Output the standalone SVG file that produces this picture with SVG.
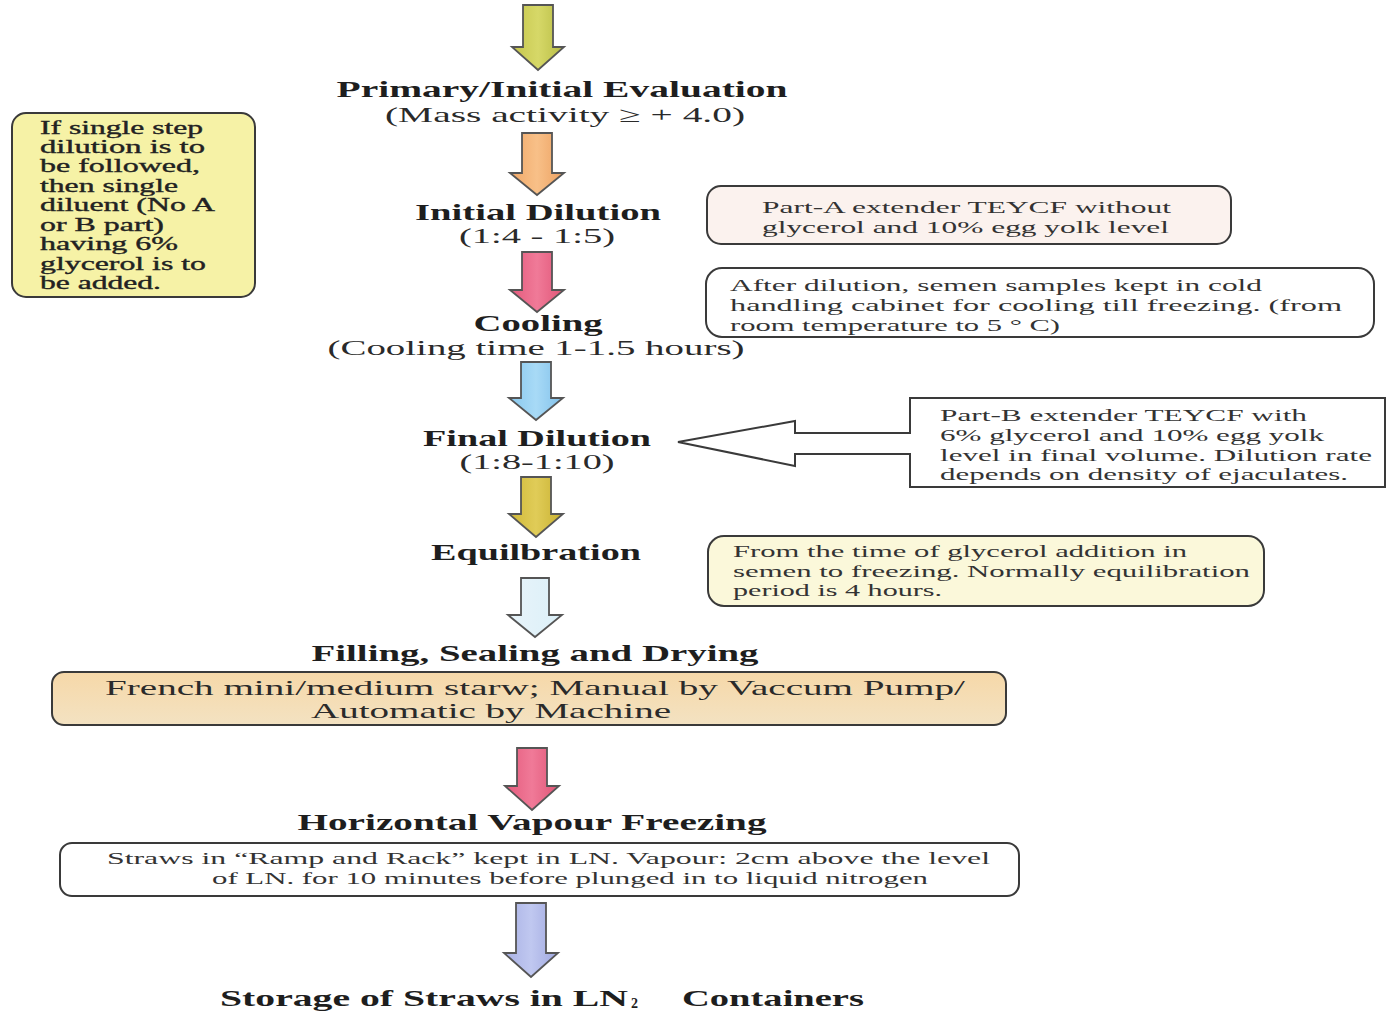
<svg xmlns="http://www.w3.org/2000/svg" width="1387" height="1011" viewBox="0 0 1387 1011">
<style>
.t{font-family:"Liberation Serif","Times New Roman",serif;font-weight:bold;font-size:23px;fill:#1e1e1e}
.s{font-family:"Liberation Serif","Times New Roman",serif;font-size:22px;fill:#2a2a2a}
.f{font-family:"Liberation Serif","Times New Roman",serif;font-size:21px;fill:#2a2a2a}
.b{font-family:"Liberation Serif","Times New Roman",serif;font-size:17px;fill:#333}
.bb{font-family:"Liberation Serif","Times New Roman",serif;font-size:18px;fill:#222;stroke:#222;stroke-width:0.35}
.box{stroke:#3a3a3a;stroke-width:2}
.arr{stroke:#555;stroke-width:1.8;stroke-linejoin:miter}
</style>
<defs>
<linearGradient id="gY" x1="0" y1="0" x2="1" y2="0"><stop offset="0" stop-color="#c6c64c"/><stop offset="0.5" stop-color="#d6d868"/><stop offset="1" stop-color="#b8bc44"/></linearGradient>
<linearGradient id="gO" x1="0" y1="0" x2="1" y2="0"><stop offset="0" stop-color="#f0a868"/><stop offset="0.5" stop-color="#f8c088"/><stop offset="1" stop-color="#eca060"/></linearGradient>
<linearGradient id="gP" x1="0" y1="0" x2="1" y2="0"><stop offset="0" stop-color="#e45a7c"/><stop offset="0.5" stop-color="#f07a98"/><stop offset="1" stop-color="#e05476"/></linearGradient>
<linearGradient id="gB" x1="0" y1="0" x2="1" y2="0"><stop offset="0" stop-color="#88c8ee"/><stop offset="0.5" stop-color="#a8daf6"/><stop offset="1" stop-color="#80c0ea"/></linearGradient>
<linearGradient id="gG" x1="0" y1="0" x2="1" y2="0"><stop offset="0" stop-color="#d0b838"/><stop offset="0.5" stop-color="#e0cc58"/><stop offset="1" stop-color="#c8b030"/></linearGradient>
<linearGradient id="gL" x1="0" y1="0" x2="1" y2="0"><stop offset="0" stop-color="#e8f4fa"/><stop offset="1" stop-color="#dcf0f8"/></linearGradient>
<linearGradient id="gV" x1="0" y1="0" x2="1" y2="0"><stop offset="0" stop-color="#a8b0e4"/><stop offset="0.5" stop-color="#c0c8f0"/><stop offset="1" stop-color="#a0a8e0"/></linearGradient>
<linearGradient id="gF" x1="0" y1="0" x2="0" y2="1"><stop offset="0" stop-color="#f6d8a8"/><stop offset="1" stop-color="#f3e2c2"/></linearGradient>
</defs>

<g id="connectors">
<path class="arr" fill="url(#gY)" d="M523,5 H553 V47 H564 L538,70 L512,47 H523 Z"/>
<path class="arr" fill="url(#gO)" d="M522,133 H552 V173 H564 L537,195 L510,173 H522 Z"/>
<path class="arr" fill="url(#gP)" d="M522,252 H552 V290 H564 L537,312 L510,290 H522 Z"/>
<path class="arr" fill="url(#gB)" d="M521,362 H551 V398 H563 L536,420 L509,398 H521 Z"/>
<path class="arr" fill="url(#gG)" d="M521,477 H551 V514 H563 L536,537 L509,514 H521 Z"/>
<path class="arr" fill="url(#gL)" d="M521,578 H549 V615 H562 L535,637 L508,615 H521 Z"/>
<path class="arr" fill="url(#gP)" d="M517,748 H547 V786 H559 L532,810 L505,786 H517 Z"/>
<path class="arr" fill="url(#gV)" d="M516,903 H546 V953 H558 L531,977 L504,953 H516 Z"/>
</g>

<g id="n-primary">
<text class="t" x="562" y="97" text-anchor="middle" textLength="451" lengthAdjust="spacingAndGlyphs">Primary/Initial Evaluation</text>
<text class="s" x="565" y="122" text-anchor="middle" textLength="360" lengthAdjust="spacingAndGlyphs">(Mass activity ≥ + 4.0)</text>
</g>

<g id="n-single-step">
<rect class="box" x="12" y="113" width="243" height="184" rx="14" fill="#f6f2a6"/>
<text class="bb" x="40" y="134" textLength="163" lengthAdjust="spacingAndGlyphs">If single step</text>
<text class="bb" x="40" y="153" textLength="165" lengthAdjust="spacingAndGlyphs">dilution  is to</text>
<text class="bb" x="40" y="172" textLength="160" lengthAdjust="spacingAndGlyphs">be followed,</text>
<text class="bb" x="40" y="192" textLength="138" lengthAdjust="spacingAndGlyphs">then single</text>
<text class="bb" x="40" y="211" textLength="175" lengthAdjust="spacingAndGlyphs">diluent (No A</text>
<text class="bb" x="40" y="231" textLength="124" lengthAdjust="spacingAndGlyphs">or B part)</text>
<text class="bb" x="40" y="250" textLength="138" lengthAdjust="spacingAndGlyphs">having 6%</text>
<text class="bb" x="40" y="270" textLength="166" lengthAdjust="spacingAndGlyphs">glycerol is to</text>
<text class="bb" x="40" y="289" textLength="121" lengthAdjust="spacingAndGlyphs">be added.</text>
</g>

<g id="n-initial-dilution">
<text class="t" x="538" y="220" text-anchor="middle" textLength="246" lengthAdjust="spacingAndGlyphs">Initial Dilution</text>
<text class="s" x="537" y="243" text-anchor="middle" textLength="156" lengthAdjust="spacingAndGlyphs">(1:4 - 1:5)</text>
</g>

<g id="n-part-a">
<rect class="box" x="707" y="186" width="524" height="58" rx="14" fill="#fbf2ee"/>
<text class="b" x="762" y="213" textLength="409" lengthAdjust="spacingAndGlyphs">Part-A extender TEYCF without</text>
<text class="b" x="762" y="233" textLength="407" lengthAdjust="spacingAndGlyphs">glycerol and 10% egg yolk level</text>
</g>

<g id="n-cooling">
<text class="t" x="538" y="331" text-anchor="middle" textLength="129" lengthAdjust="spacingAndGlyphs">Cooling</text>
<text class="s" x="536" y="355" text-anchor="middle" textLength="417" lengthAdjust="spacingAndGlyphs">(Cooling time 1-1.5 hours)</text>
</g>

<g id="n-after-dilution">
<rect class="box" x="706" y="268" width="668" height="69" rx="16" fill="#ffffff"/>
<text class="b" x="730" y="291" textLength="532" lengthAdjust="spacingAndGlyphs">After dilution, semen samples kept in cold</text>
<text class="b" x="730" y="311" textLength="612" lengthAdjust="spacingAndGlyphs">handling cabinet  for cooling   till freezing. (from</text>
<text class="b" x="730" y="331" textLength="330" lengthAdjust="spacingAndGlyphs">room temperature to 5 ° C)</text>
</g>

<g id="n-final-dilution">
<text class="t" x="537" y="446" text-anchor="middle" textLength="228" lengthAdjust="spacingAndGlyphs">Final Dilution</text>
<text class="s" x="537" y="469" text-anchor="middle" textLength="155" lengthAdjust="spacingAndGlyphs">(1:8-1:10)</text>
</g>

<g id="n-part-b">
<path d="M910,398 H1385 V487 H910 V454 H795 V466 L678,442 L795,421 V433 H910 Z" fill="#ffffff" stroke="#3a3a3a" stroke-width="2"/>
<text class="b" x="940" y="421" textLength="367" lengthAdjust="spacingAndGlyphs">Part-B extender TEYCF with</text>
<text class="b" x="940" y="441" textLength="384" lengthAdjust="spacingAndGlyphs">6% glycerol and 10% egg yolk</text>
<text class="b" x="940" y="461" textLength="432" lengthAdjust="spacingAndGlyphs">level in final volume. Dilution rate</text>
<text class="b" x="940" y="480" textLength="408" lengthAdjust="spacingAndGlyphs">depends on density of ejaculates.</text>
</g>

<g id="n-equilibration">
<text class="t" x="536" y="560" text-anchor="middle" textLength="210" lengthAdjust="spacingAndGlyphs">Equilbration</text>
</g>

<g id="n-equil-note">
<rect class="box" x="708" y="536" width="556" height="70" rx="16" fill="#fbf8da"/>
<text class="b" x="733" y="557" textLength="454" lengthAdjust="spacingAndGlyphs">From the time of glycerol addition in</text>
<text class="b" x="733" y="577" textLength="517" lengthAdjust="spacingAndGlyphs">semen to freezing. Normally equilibration</text>
<text class="b" x="733" y="596" textLength="209" lengthAdjust="spacingAndGlyphs">period is 4 hours.</text>
</g>

<g id="n-filling">
<text class="t" x="535" y="661" text-anchor="middle" textLength="447" lengthAdjust="spacingAndGlyphs">Filling, Sealing and Drying</text>
<rect class="box" x="52" y="672" width="954" height="53" rx="12" fill="url(#gF)"/>
<text class="f" x="535" y="695" text-anchor="middle" textLength="860" lengthAdjust="spacingAndGlyphs">French mini/medium starw; Manual by Vaccum Pump/</text>
<text class="f" x="491" y="718" text-anchor="middle" textLength="360" lengthAdjust="spacingAndGlyphs">Automatic by Machine</text>
</g>

<g id="n-freezing">
<text class="t" x="532" y="830" text-anchor="middle" textLength="469" lengthAdjust="spacingAndGlyphs">Horizontal Vapour Freezing</text>
<rect class="box" x="60" y="843" width="959" height="53" rx="12" fill="#ffffff"/>
<text class="b" x="107" y="864" textLength="883" lengthAdjust="spacingAndGlyphs">Straws in “Ramp and Rack” kept in LN. Vapour: 2cm above the level</text>
<text class="b" x="212" y="884" textLength="716" lengthAdjust="spacingAndGlyphs">of LN. for 10 minutes before plunged in to liquid nitrogen</text>
</g>

<g id="n-storage">
<text class="t" x="220" y="1006" textLength="408" lengthAdjust="spacingAndGlyphs">Storage of Straws in LN</text>
<text class="t" x="631" y="1008" style="font-size:14px">2</text>
<text class="t" x="682" y="1006" textLength="182" lengthAdjust="spacingAndGlyphs">Containers</text>
</g>
</svg>
